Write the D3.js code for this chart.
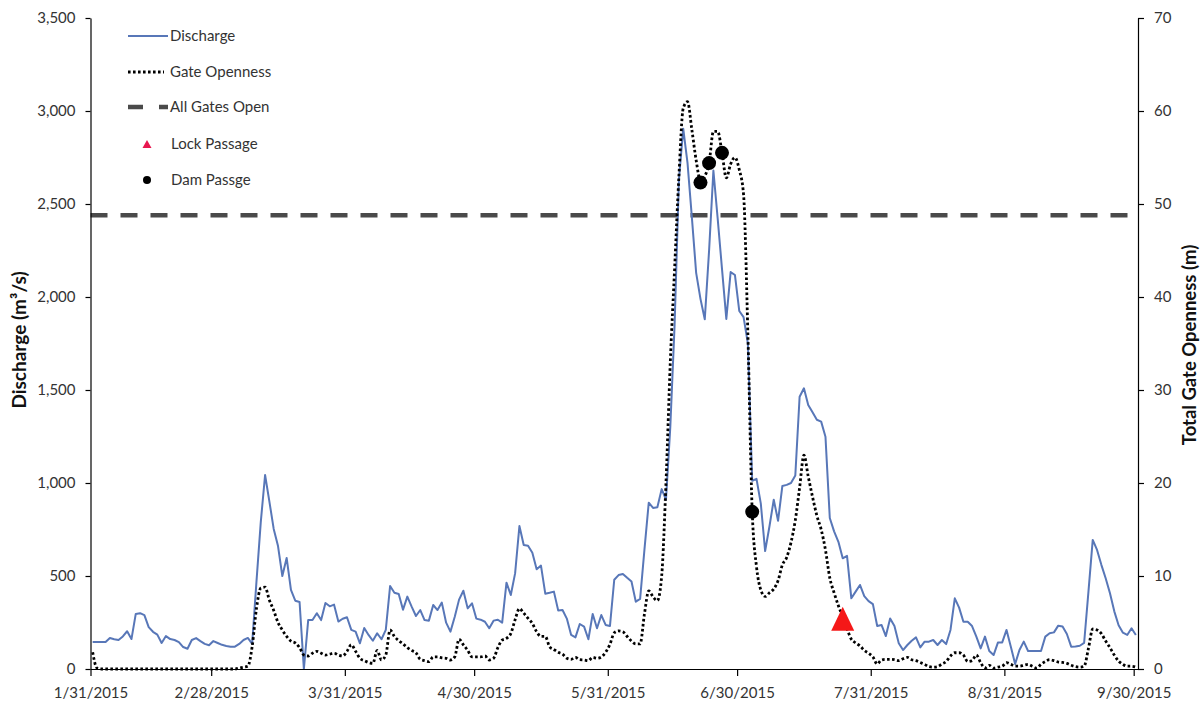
<!DOCTYPE html>
<html>
<head>
<meta charset="utf-8">
<script src="https://cdn.jsdelivr.net/npm/d3@7"></script>
<style>
  html, body { margin: 0; padding: 0; background: #fff; }
  svg { display: block; font-family: Lato, "Open Sans", sans-serif; }
</style>
</head>
<body>
<svg id="chart" width="1204" height="703"></svg>
<script>
// ---------------- data ----------------
const startDate = "2015-01-31";
const endDate = "2015-10-01";

// daily discharge (m3/s), 1/31/2015 .. 9/30/2015
const discharge = [
  145,145,145,145,167,160,156,175,203,161,
  296,300,290,225,200,185,140,177,161,156,
  145,118,109,156,166,150,135,128,150,140,
  130,124,120,120,135,156,167,135,470,790,
  1043,900,753,661,500,597,425,367,360,0,
  263,263,300,263,355,337,346,255,270,278,
  210,201,138,220,183,152,192,160,210,446,
  410,403,319,389,335,285,317,263,260,344,
  317,357,249,201,281,373,421,326,353,271,
  265,254,219,260,265,249,464,398,514,769,
  667,663,625,536,556,405,410,416,314,317,
  271,183,170,242,228,160,296,219,290,237,
  231,480,505,511,490,470,362,377,640,894,
  866,870,967,910,1300,1850,2630,2905,2720,2430,
  2130,1990,1880,2250,2680,2420,2150,1882,2134,2118,
  1925,1892,1750,1012,1022,889,634,766,910,797,
  984,990,1000,1040,1464,1509,1420,1380,1340,1330,
  1249,812,740,684,595,608,380,416,452,392,
  365,349,231,237,177,272,231,138,102,129,
  152,170,116,147,147,156,129,156,134,210,
  380,330,254,254,231,174,111,174,97,75,
  142,143,210,120,27,102,147,97,97,97,
  97,174,192,197,233,228,188,120,121,125,
  140,415,694,640,560,488,407,310,235,195,
  183,219,183
];

// daily total gate openness (m), same days
const gateOpenness = [
  1.8,0.1,0,0,0,0,0,0,0,0,
  0,0,0,0,0,0,0,0,0,0,
  0,0,0,0,0,0,0,0,0,0,
  0,0,0,0,0.1,0.2,0.3,2.4,6.5,8.7,
  8.8,7.4,6.3,5.0,4.2,3.5,3.0,2.8,2.3,1.5,
  1.4,1.7,1.9,1.7,1.5,1.6,1.7,1.5,1.4,1.9,
  2.6,1.9,1.15,0.9,0.7,0.6,2.0,0.97,1.5,4.2,
  3.5,3.05,2.7,2.3,2.0,1.75,1.04,0.9,0.8,1.3,
  1.3,1.2,1.15,0.97,1.3,3.2,2.6,2.0,1.3,1.3,
  1.3,1.4,0.97,1.15,2.3,3.1,3.3,3.8,5.3,6.5,
  6.0,5.45,4.9,4.0,3.5,3.5,2.4,2.1,1.8,1.6,
  1.15,1.04,1.25,1.0,0.97,0.9,1.25,1.15,1.3,1.8,
  2.65,3.9,4.1,4.0,3.5,3.0,2.7,2.7,5.9,8.4,
  7.75,7.35,10.0,20.0,33.0,43.0,53.0,60.3,61.0,58.0,
  54.7,52.5,53.0,54.4,57.8,57.8,55.5,52.8,54.3,55.0,
  53.7,51.0,36.0,17.0,11.0,8.5,7.8,8.2,8.6,9.5,
  11.2,12.0,13.6,16.0,19.5,23.0,20.7,18.5,16.5,15.0,
  12.8,9.8,8.2,6.8,5.6,4.3,3.2,2.8,2.5,2.0,
  1.7,1.3,0.54,0.97,1.04,1.04,1.0,0.9,1.1,1.25,
  1.0,0.9,0.7,0.5,0.25,0.2,0.25,0.54,0.8,1.4,
  1.75,1.75,1.5,0.8,0.9,1.5,0.68,0.1,0.4,0.1,
  0.2,0.3,0.68,0.5,0.3,0.3,0.4,0.5,0.3,0.1,
  0.5,0.8,1.0,0.9,0.75,0.7,0.6,0.4,0.25,0.2,
  0.3,2.2,4.3,4.2,3.8,3.0,2.3,1.5,0.85,0.5,
  0.3,0.3,0.2
];

const allGatesOpen = 2440; // discharge at which all gates are open (m3/s)

const damPassageDates = ["2015-06-21", "2015-06-23", "2015-06-26", "2015-07-03"];
const damPassageGate = [52.3, 54.4, 55.5, 16.9];

const lockPassageDates = ["2015-07-24"];
const lockPassageGate = [5.4];

const xTickLabels = ["1/31/2015", "2/28/2015", "3/31/2015", "4/30/2015", "5/31/2015",
                     "6/30/2015", "7/31/2015", "8/31/2015", "9/30/2015"];
const dischargeTicks = [0, 500, 1000, 1500, 2000, 2500, 3000, 3500];
const gateTicks = [0, 10, 20, 30, 40, 50, 60, 70];

const legendNames = ["Discharge", "Gate Openness", "All Gates Open", "Lock Passage", "Dam Passge"];

// ---------------- chart ----------------
(function () {
const svg = d3.select("#chart");
const parseISO = d3.utcParse("%Y-%m-%d");
const parseMDY = d3.utcParse("%m/%d/%Y");

const mL = 90.5, mR = 1138, mT = 18, mB = 669;

const x = d3.scaleUtc().domain([parseISO(startDate), parseISO(endDate)]).range([mL, mR]);
const yL = d3.scaleLinear().domain([0, 3500]).range([mB, mT]);
const yR = d3.scaleLinear().domain([0, 70]).range([mB, mT]);

const t0 = parseISO(startDate);
const dayDate = i => d3.utcDay.offset(t0, i);
// points are drawn in the middle of each day (between tick marks)
const xMid = dt => x(d3.utcHour.offset(dt, 12));

// All gates open reference line
svg.append("line")
  .attr("x1", mL).attr("x2", mR - 3)
  .attr("y1", yL(allGatesOpen)).attr("y2", yL(allGatesOpen))
  .attr("stroke", "#4a4a4a").attr("stroke-width", 4.5)
  .attr("stroke-dasharray", "17,13");

// Discharge line
const lineQ = d3.line().x((d, i) => xMid(dayDate(i))).y(d => yL(d));
svg.append("path").datum(discharge)
  .attr("d", lineQ)
  .attr("fill", "none").attr("stroke", "#5877b8").attr("stroke-width", 2)
  .attr("stroke-linejoin", "round");

// Gate openness line
const lineG = d3.line().x((d, i) => xMid(dayDate(i))).y(d => yR(d)).curve(d3.curveMonotoneX);
svg.append("path").datum(gateOpenness)
  .attr("d", lineG)
  .attr("fill", "none").attr("stroke", "#000").attr("stroke-width", 2.8)
  .attr("stroke-dasharray", "2.6,2.4");

// Axes
const fmtL = d3.format(",");
const axL = svg.append("g").attr("transform", `translate(${mL},0)`)
  .call(d3.axisLeft(yL).tickValues(dischargeTicks).tickFormat(fmtL).tickSize(5).tickSizeOuter(0).tickPadding(10));
const axR = svg.append("g").attr("transform", `translate(${mR},0)`)
  .call(d3.axisRight(yR).tickValues(gateTicks).tickSize(6).tickSizeOuter(0).tickPadding(10));
const axB = svg.append("g").attr("transform", `translate(0,${mB})`)
  .call(d3.axisBottom(x).tickValues(xTickLabels.map(parseMDY))
    .tickFormat((d, i) => xTickLabels[i]).tickSize(7).tickSizeOuter(0).tickPadding(11));

[axL, axR, axB].forEach(g => {
  g.selectAll("path.domain").attr("stroke", "#000").attr("stroke-width", 1.2);
  g.selectAll(".tick line").attr("stroke", "#000").attr("stroke-width", 1.2);
  g.selectAll(".tick text").attr("font-size", 15).attr("fill", "#333")
    .attr("font-family", "Lato, 'Open Sans', sans-serif");
});

// Dam passage markers
svg.append("g").selectAll("circle").data(damPassageDates)
  .join("circle")
  .attr("cx", d => xMid(parseISO(d)))
  .attr("cy", (d, i) => yR(damPassageGate[i]))
  .attr("r", 7).attr("fill", "#000");

// Lock passage markers
const triPath = (cx, cy, w, h) => `M${cx},${cy - h / 2}L${cx + w / 2},${cy + h / 2}L${cx - w / 2},${cy + h / 2}Z`;
svg.append("g").selectAll("path").data(lockPassageDates)
  .join("path")
  .attr("d", (d, i) => triPath(xMid(parseISO(d)), yR(lockPassageGate[i]), 23, 24))
  .attr("fill", "#f51818");

// Axis titles
svg.append("text")
  .attr("transform", `translate(26,340) rotate(-90)`)
  .attr("text-anchor", "middle").attr("font-size", 19).attr("font-weight", "bold").attr("fill", "#111")
  .text("Discharge (m³/s)");
svg.append("text")
  .attr("transform", `translate(1196,345) rotate(-90)`)
  .attr("text-anchor", "middle").attr("font-size", 18.5).attr("font-weight", "bold").attr("fill", "#111")
  .text("Total Gate Openness (m)");

// Legend
const lg = svg.append("g");
const legY = [36, 72, 107, 144, 180];
const lx0 = 128, lx1 = 168, ltx = 170;
lg.append("line").attr("x1", lx0).attr("x2", lx1).attr("y1", legY[0]).attr("y2", legY[0])
  .attr("stroke", "#5877b8").attr("stroke-width", 2);
lg.append("line").attr("x1", lx0).attr("x2", lx1 - 4).attr("y1", legY[1]).attr("y2", legY[1])
  .attr("stroke", "#000").attr("stroke-width", 2.8).attr("stroke-dasharray", "2.6,2.4");
lg.append("line").attr("x1", lx0).attr("x2", lx1).attr("y1", legY[2]).attr("y2", legY[2])
  .attr("stroke", "#4a4a4a").attr("stroke-width", 4.5).attr("stroke-dasharray", "15,16");
lg.append("path").attr("d", triPath(147, legY[3], 9, 8)).attr("fill", "#e8174f");
lg.append("circle").attr("cx", 147).attr("cy", legY[4]).attr("r", 4).attr("fill", "#000");
lg.selectAll("text").data(legendNames).join("text")
  .attr("x", (d, i) => i < 3 ? ltx : ltx + 1)
  .attr("y", (d, i) => legY[i])
  .attr("dy", "0.35em")
  .attr("font-size", 15).attr("fill", "#333")
  .text(d => d);
})();
</script>
</body>
</html>
